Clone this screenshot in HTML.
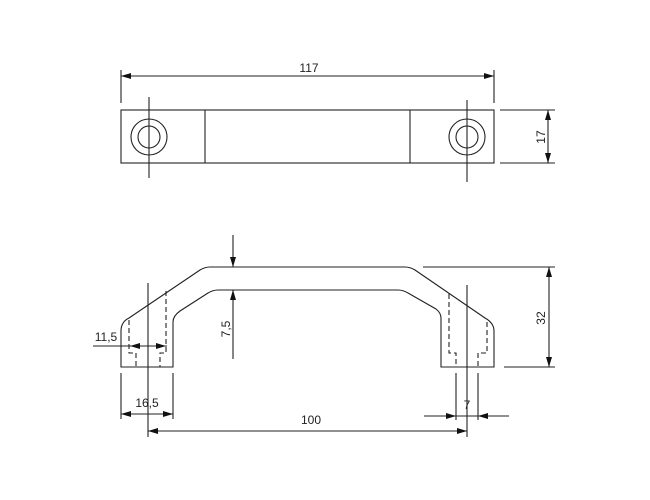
<!DOCTYPE html>
<html><head><meta charset="utf-8"><style>
html,body{margin:0;padding:0;background:#fff;}
svg{display:block;}
text{font-family:"Liberation Sans",sans-serif;font-size:12px;fill:#222;}
</style></head><body>
<svg width="650" height="500" viewBox="0 0 650 500" xmlns="http://www.w3.org/2000/svg">
<defs>
<marker id="a" viewBox="0 0 10 6" refX="10" refY="3" markerWidth="10" markerHeight="6" orient="auto-start-reverse" markerUnits="userSpaceOnUse">
<path d="M0,0 L10,3 L0,6 z" fill="#111"/>
</marker>
</defs>
<g stroke="#222" stroke-width="1.1" fill="none">
<!-- top view -->
<rect x="121" y="110" width="373" height="53"/>
<line x1="205" y1="110" x2="205" y2="163"/>
<line x1="410" y1="110" x2="410" y2="163"/>
<circle cx="149" cy="137" r="18"/>
<circle cx="149" cy="137" r="11"/>
<circle cx="467" cy="137" r="18"/>
<circle cx="467" cy="137" r="11"/>
<line x1="149" y1="97" x2="149" y2="178"/>
<line x1="467" y1="100" x2="467" y2="182"/>
<!-- 117 -->
<line x1="121" y1="70" x2="121" y2="103"/>
<line x1="494" y1="70" x2="494" y2="103"/>
<line x1="121" y1="76" x2="494" y2="76" marker-start="url(#a)" marker-end="url(#a)"/>
<!-- 17 -->
<line x1="500" y1="110" x2="555" y2="110"/>
<line x1="500" y1="163" x2="555" y2="163"/>
<line x1="548" y1="110" x2="548" y2="163" marker-start="url(#a)" marker-end="url(#a)"/>

<!-- front view outer -->
<path d="M121,367 L121,331 Q121,322 129,318 L200,270 Q205,267 210,267 L405,267 Q410,267 415,270 L485,318 Q494,323 494,331 L494,367 L441,367 L441,318 Q441,313 436,309 L408,293 Q403,290 398,290 L218,290 Q213,290 208,293 L180,311 Q173,316 173,322 L173,367 Z"/>
<!-- dashed hidden lines -->
<g stroke-dasharray="5,3">
<path d="M129,320 L129,353 L136,353 L136,367"/>
<path d="M166,291 L166,353 L160,353 L160,367"/>
<path d="M449,294 L449,353 L456,353 L456,367"/>
<path d="M487,322 L487,353 L478,353 L478,367"/>
</g>
<!-- centerlines -->
<line x1="148" y1="283" x2="148" y2="437"/>
<line x1="467" y1="285" x2="467" y2="437"/>
<!-- 7,5 -->
<line x1="233" y1="235" x2="233" y2="267" marker-end="url(#a)"/>
<line x1="233" y1="359" x2="233" y2="290" marker-end="url(#a)"/>
<!-- 11,5 -->
<line x1="93" y1="346" x2="167" y2="346"/>
<line x1="148" y1="346" x2="130" y2="346" marker-end="url(#a)"/>
<line x1="148" y1="346" x2="166" y2="346" marker-end="url(#a)"/>
<!-- 16,5 -->
<line x1="121" y1="373" x2="121" y2="419"/>
<line x1="173" y1="373" x2="173" y2="419"/>
<line x1="121" y1="414" x2="173" y2="414"/>
<line x1="148" y1="414" x2="121" y2="414" marker-end="url(#a)"/>
<line x1="148" y1="414" x2="173" y2="414" marker-end="url(#a)"/>
<!-- 100 -->
<line x1="148" y1="431" x2="467" y2="431" marker-start="url(#a)" marker-end="url(#a)"/>
<!-- 7 -->
<line x1="456" y1="373" x2="456" y2="420"/>
<line x1="478" y1="373" x2="478" y2="420"/>
<line x1="424" y1="416" x2="456" y2="416" marker-end="url(#a)"/>
<line x1="509" y1="416" x2="478" y2="416" marker-end="url(#a)"/>
<line x1="456" y1="416" x2="478" y2="416"/>
<!-- 32 -->
<line x1="423" y1="267" x2="555" y2="267"/>
<line x1="504" y1="367" x2="555" y2="367"/>
<line x1="549" y1="267" x2="549" y2="367" marker-start="url(#a)" marker-end="url(#a)"/>
</g>
<text x="309" y="72" text-anchor="middle">117</text>
<text x="541" y="137" text-anchor="middle" transform="rotate(-90 541 137)" dy="4">17</text>
<text x="541" y="318" text-anchor="middle" transform="rotate(-90 541 318)" dy="4">32</text>
<text x="226" y="329" text-anchor="middle" transform="rotate(-90 226 329)" dy="4">7,5</text>
<text x="106" y="341" text-anchor="middle">11,5</text>
<text x="147" y="407" text-anchor="middle">16,5</text>
<text x="311" y="424" text-anchor="middle">100</text>
<text x="467" y="409" text-anchor="middle">7</text>
</svg>
</body></html>
